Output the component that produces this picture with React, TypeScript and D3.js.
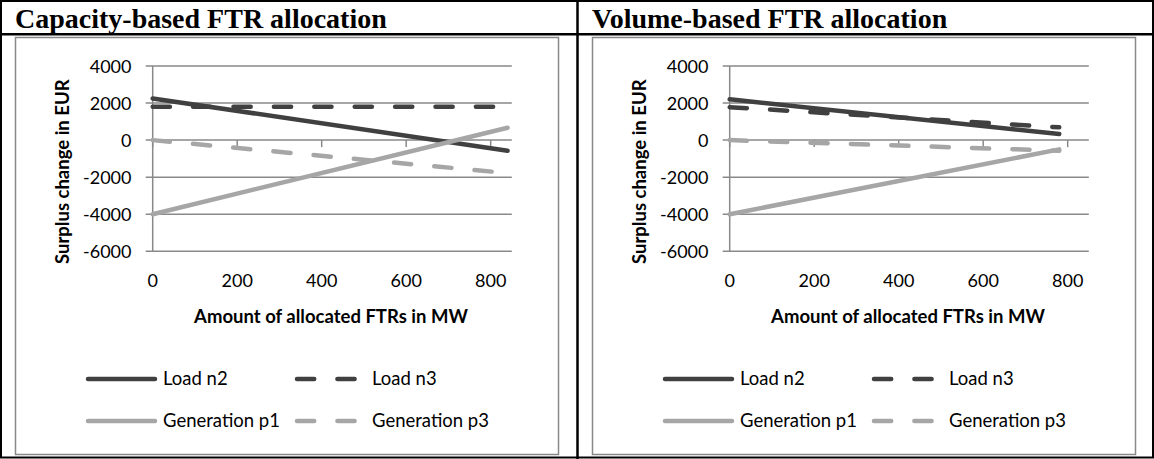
import React from 'react';
import * as d3 from 'd3';

const panelTitles = ['Capacity-based FTR allocation', 'Volume-based FTR allocation'];
const seriesNames = ['Load n2', 'Load n3', 'Generation p1', 'Generation p3'];
const xTicks = [0, 200, 400, 600, 800];
const yTicks = [4000, 2000, 0, -2000, -4000, -6000];
const xTitle = 'Amount of allocated FTRs in MW';
const yTitle = 'Surplus change in EUR';

// Capacity-based FTR allocation
const capX = [0, 840];
const capLoadN2 = [2250, -570];
const capLoadN3 = [1800, 1800];
const capGenP1 = [-4000, 670];
const capGenP3 = [0, -1780];

// Volume-based FTR allocation
const volX = [0, 780];
const volLoadN2 = [2200, 330];
const volLoadN3 = [1780, 690];
const volGenP1 = [-4000, -500];
const volGenP3 = [0, -570];

const panels = [
  { title: panelTitles[0], x: capX, series: [capLoadN2, capLoadN3, capGenP1, capGenP3] },
  { title: panelTitles[1], x: volX, series: [volLoadN2, volLoadN3, volGenP1, volGenP3] },
];

const DARK = '#404040';
const LIGHT = '#a6a6a6';
const GRID = '#898989';
const seriesStyle = [
  { color: DARK, dash: null },
  { color: DARK, dash: '17.2 23.2' },
  { color: LIGHT, dash: null },
  { color: LIGHT, dash: '17.2 23.2' },
];
const FONT = 'Lato, "Open Sans", sans-serif';
const LW = 4.5;

function Panel({ panel, ox }: { panel: any; ox: number }) {
  const x = d3.scaleLinear().domain([0, 850]).range([152.7, 511.8]);
  const y = d3.scaleLinear().domain([-6000, 4000]).range([251.3, 66]);
  const line = d3
    .line<[number, number]>()
    .x((d) => x(d[0]))
    .y((d) => y(d[1]));
  const legendPos = [
    { lx: 88, ly: 379 },
    { lx: 297, ly: 379 },
    { lx: 88, ly: 421 },
    { lx: 297, ly: 421 },
  ];
  return (
    <g transform={`translate(${ox},0)`}>
      <text x={15} y={28} fontFamily='"Liberation Serif", "Times New Roman", serif' fontWeight="bold" fontSize={28}>
        {panel.title}
      </text>
      <rect x={15.5} y={37.5} width={543} height={417} fill="#fff" stroke={GRID} strokeWidth={1.5} />
      {/* gridlines */}
      {yTicks.map((t) => (
        <line key={'g' + t} x1={x(0) - 7} x2={x(850)} y1={y(t)} y2={y(t)} stroke={GRID} strokeWidth={1.5} />
      ))}
      {/* y axis */}
      <line x1={x(0)} x2={x(0)} y1={y(4000)} y2={y(-6000)} stroke={GRID} strokeWidth={1.5} />
      {/* x ticks */}
      {xTicks.map((t) => (
        <line key={'xt' + t} x1={x(t)} x2={x(t)} y1={y(0)} y2={y(0) + 7} stroke={GRID} strokeWidth={1.5} />
      ))}
      {yTicks.map((t) => (
        <text key={'yl' + t} x={131.5} y={y(t) + 6.5} textAnchor="end" fontFamily={FONT} fontSize={18} fill="#000">
          {t}
        </text>
      ))}
      {xTicks.map((t) => (
        <text key={'xl' + t} x={x(t)} y={287} textAnchor="middle" fontFamily={FONT} fontSize={18} fill="#000">
          {t}
        </text>
      ))}
      <text x={331} y={323} textAnchor="middle" fontFamily={FONT} fontWeight="bold" fontSize={18.5}>
        {xTitle}
      </text>
      <text
        transform={`translate(69,171.7) rotate(-90)`}
        textAnchor="middle"
        fontFamily={FONT}
        fontWeight="bold"
        fontSize={18.5}
      >
        {yTitle}
      </text>
      {panel.series.map((vals: number[], i: number) => {
        const pts = panel.x.map((xv: number, j: number) => [xv, vals[j]] as [number, number]);
        const st = seriesStyle[i];
        return (
          <path
            key={'s' + i}
            d={line(pts) || ''}
            fill="none"
            stroke={st.color}
            strokeWidth={LW}
            strokeLinecap="round"
            strokeDasharray={st.dash || undefined}
          />
        );
      })}
      {seriesNames.map((name, i) => {
        const st = seriesStyle[i];
        const p = legendPos[i];
        return (
          <g key={'lg' + i}>
            <line
              x1={p.lx}
              x2={p.lx + 67}
              y1={p.ly}
              y2={p.ly}
              stroke={st.color}
              strokeWidth={LW}
              strokeLinecap="round"
              strokeDasharray={st.dash || undefined}
            />
            <text x={p.lx + 75} y={p.ly + 6} fontFamily={FONT} fontSize={18.5} fill="#000">
              {name}
            </text>
          </g>
        );
      })}
    </g>
  );
}

export default function App() {
  return (
    <svg
      width={1154}
      height={459}
      style={{ position: 'fixed', left: 0, top: 0, background: '#fff' }}
      xmlns="http://www.w3.org/2000/svg"
    >
      <rect x={0} y={0} width={1154} height={459} fill="#fff" />
      {panels.map((p, i) => (
        <Panel key={i} panel={p} ox={i * 577} />
      ))}
      {/* table borders */}
      <rect x={1} y={1} width={1152} height={456.5} fill="none" stroke="#000" strokeWidth={2} />
      <line x1={0} x2={1154} y1={34.3} y2={34.3} stroke="#000" strokeWidth={2.5} />
      <line x1={577.5} x2={577.5} y1={0} y2={459} stroke="#000" strokeWidth={2.5} />
    </svg>
  );
}
